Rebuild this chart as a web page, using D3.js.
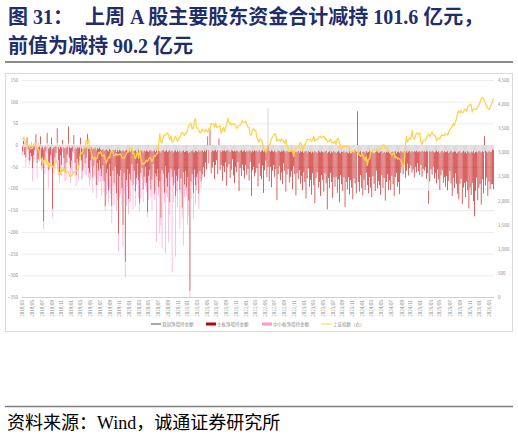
<!DOCTYPE html>
<html>
<head>
<meta charset="utf-8">
<script src="https://cdn.jsdelivr.net/npm/d3@7"></script>
<style>
  body { margin: 0; background: #fff; }
  svg { display: block; }
</style>
</head>
<body>
<script>
// weekly data, first week ends 2018-03-02
const firstWeek = "2018-03-02";

const tickLabels = [
  "2018/03","2018/05","2018/07","2018/09","2018/11",
  "2019/01","2019/03","2019/05","2019/07","2019/09","2019/11",
  "2020/01","2020/03","2020/05","2020/07","2020/09","2020/11",
  "2021/01","2021/03","2021/05","2021/07","2021/09","2021/11",
  "2022/01","2022/03","2022/05","2022/07","2022/09","2022/11",
  "2023/01","2023/03","2023/05","2023/07","2023/09","2023/11",
  "2024/01","2024/03","2024/05","2024/07","2024/09","2024/11",
  "2025/01","2025/03","2025/05","2025/07","2025/09","2025/11",
  "2026/01","2026/03"
];

const seriesNames = ["双创净增持金额", "主板净增持金额", "中小板净增持金额", "上证指数（右）"];

// 双创净增持金额 (亿元)
const shuangchuang = [
  -3,2,-5,-4,3,-2,-6,-3,-4,-8, -4,-2,3,-6,-5,-3,2,-7,-4,-10,
  -5,-3,4,-8,-6,-4,2,-9,-6,-4, -3,5,-5,-9,-4,-6,2,-5,-8,-6,
  -4,4,-5,-7,-6,-3,3,-6,-9,-5, -7,-5,2,-6,-9,-4,-7,-5,3,-8,
  -9,-6,-5,-10,-8,-6,-12,-7,-9,-6, -10,-12,-9,-14,-11,-10,-13,-15,-9,-12,
  -14,-11,-13,-10,-16,-12,-15,-11,-13,-14, -12,-15,-13,-11,-16,-14,-12,-15,-10,-13,
  -14,-12,-16,-13,-11,-15,-14,-12,-17,-13, -15,-12,-14,-16,-13,-11,-15,-14,-12,-16,
  -13,-15,-12,-14,-17,-13,-11,-15,-14,-12, -16,-14,-12,-15,-13,-17,-14,-12,-16,-13,
  -15,-13,-17,-14,-12,-16,-15,-13,-14,-18, -16,-14,-12,-15,-17,-13,-14,-16,-12,-15,
  -14,-12,-16,-13,-15,-11,-14,-12,-13,-15, -12,-14,-13,-11,-15,-12,-14,-13,-16,-12,
  -14,-12,-15,-13,-11,-14,-16,-12,-13,-15, -13,-15,-12,-14,-16,-13,-11,-15,-14,-12,
  -16,-13,-15,-12,-14,-17,-13,-15,-12,-14, -13,-15,-12,-16,-14,-12,-15,-13,-11,-14,
  85,-13,-15,-12,-14,-16,-13,-15,-17,-12, -14,-16,-13,-15,-12,-14,-17,-13,-15,-16,
  -13,-15,-17,-14,-12,-16,-15,-13,-18,-14, -16,-14,-18,-15,-13,-17,-14,-16,-15,-19,
  -15,-17,-14,-16,-18,-13,-15,-17,-14,-16, -17,-15,-13,-18,-16,-14,-19,-15,-17,-14,
  -16,-18,-15,-14,-17,-19,-15,-16,-14,-18, -15,-17,-19,-14,-16,-18,-15,-17,-13,-16,
  -18,-15,-17,-14,-19,-16,-15,-18,-14,-17, -16,-14,-18,-15,-17,-19,-16,-14,-15,-18,
  -17,-15,-14,-19,-16,-18,-15,-17,-14,-16, -18,-16,-15,-17,-14,-19,-16,-15,-18,-14,
  -15,-17,-13,-16,-14,-18,-15,-13,-17,-14, -16,-14,-15,-13,-17,-15,-14,-16,-13,-15,
  -14,-16,-13,-15,-105,-14,-16,-13,-15,-17, -15,-13,-16,-14,-18,-15,-13,-17,-14,-16,
  -16,-14,-18,-15,-13,-17,-16,-14,-15,-19, -17,-15,-14,-18,-16,-13,-17,-15,-19,-14,
  -16,-18,-15,-17,-14,-19,-16,-15,-17,-13, -15,-17,-14,-16,-18,-13,-15,-17,-14,-16,
  -15,-10.0,-11.6
];

// 主板净增持金额 (亿元)
const zhuban = [
  -12,8,-18,-25,15,-8,-30,-15,-22,-45, -20,-10,22,-35,-28,-15,18,-40,-25,-166,
  -30,-12,24,-50,-35,-20,15,-138,-45,-25, -15,34,-30,-60,-20,-40,10,-25,-55,-35,
  -18,39,-25,-45,-30,-12,20,-35,-60,-28, -40,-22,15,-30,-50,-18,-35,-25,23,-45,
  -55,-30,-20,-65,-40,-25,-80,-35,-50,-30, -45,-60,-38,-70,-130,-55,-42,-90,-35,-60,
  -126,-48,-75,-40,-95,-55,-188,-60,-45,-85, -172,-50,-256,-70,-40,-110,-55,-65,-35,-80,
  -45,-95,-60,-30,-70,-120,-50,-40,-85,-60, -35,-75,-140,-55,-45,-90,-65,-30,-100,-50,
  -60,-40,-85,-70,-150,-45,-55,-95,-35,-65, -80,-50,-120,-40,-60,-75,-45,-105,-55,-70,
  -40,-90,-60,-130,-50,-75,-45,-85,-60,-110, -320,-70,-55,-95,-40,-80,-60,-50,-100,-45,
  -70,-55,-35,-60,-25,-45,20,-30,35,-50, -40,-25,-65,-35,-20,-55,15,-45,-30,-70,
  -35,-50,-25,-80,-40,-30,-60,-45,-20,-55, -75,-35,-50,-25,-90,-40,-60,-30,-45,-65,
  -30,-55,-40,-70,-25,-100,-45,-35,-60,-50, -40,-80,-30,-55,-65,-35,-95,-45,-25,-60,
  -50,-70,-35,-85,-45,-30,-60,-40,-110,-55, -35,-65,-50,-75,-30,-45,-90,-55,-40,-70,
  -60,-45,-85,-35,-55,-100,-50,-65,-40,-75, -55,-90,-45,-70,-110,-60,-40,-80,-65,-95,
  -50,-75,-120,-60,-45,-85,-70,-100,-55,-65, -90,-50,-75,-130,-60,-85,-45,-70,-105,-60,
  -80,-55,-95,-65,-115,-50,-75,-90,-60,-125, -70,-85,-55,-100,-65,-80,-110,-60,-75,-95,
  78,-70,-90,-55,-80,-100,-65,-85,-50,-75, -95,-60,-80,-105,-55,-70,-90,-45,-85,-65,
  -75,-100,-55,-80,-60,-110,-70,-50,-90,-65, -85,-55,-75,-100,-60,-45,-80,-70,-95,-50,
  -35,-50,-30,-60,-45,-25,-55,-40,-30,-50, -40,-60,-35,-50,-25,-45,-55,-30,-60,-40,
  -45,-35,-65,-50,-30,-70,-40,-55,-35,-60, -50,-75,-40,-65,-85,-55,-45,-70,-60,-80,
  -55,-90,-65,-45,-75,-100,-60,-85,-50,-70, -95,-110,-75,-60,-120,-85,-70,-105,-65,-90,
  -130,-80,-100,-70,-115,-145,-90,-60,-110,-85, -75,-120,-65,-95,20,-80,-60,-100,-70,-85,
  -75,-80.2,-90.0
];

// 中小板净增持金额 (亿元), board merged in 2021/04
const zhongxiao = [
  -8,-15,5,-20,-12,-25,-10,-18,8,-30, -15,-22,-10,-35,6,-20,-28,-12,-25,-18,
  -30,-15,-20,-40,-12,-25,-35,-20,-15,-28, -22,-10,-35,-18,-45,-25,-15,-30,-20,-40,
  -18,-28,-15,-35,-22,-50,-20,-30,-25,-15, -35,-20,-28,-45,-18,-30,-25,-40,-15,-22,
  -30,-45,-25,-35,-20,-40,-30,-50,-25,-35, -30,-45,-35,-25,-10,-50,-40,-30,-55,-40,
  -40,-35,-50,-45,-40,-60,-42,-50,-55,-40, -50,-45,-36,-60,-40,-35,-65,-50,-40,-55,
  -20,-35,-15,-25,-40,-18,-60,-22,-30,-15, -45,-20,-12,-55,-25,-18,-70,-30,-15,-40,
  -150,-25,-20,-120,-18,-180,-30,-22,-200,-35, -25,-160,-30,-20,-220,-40,-28,-140,-35,-60,
  -22,-90,-35,-25,-170,-30,-45,-20,-110,-35, -15,-40,-25,-60,-20,-45,-30,-25,-35,-20,
  -15,-10
];

// 上证指数 weekly close
const shIndex = [
  3254,3307,3269,3152,3169, 3131,3159,3071,3082, 3091,3163,3193,3141, 3095,3067,3022,2889,2847,
  2747,2831,2829,2874, 2740,2795,2669,2730,2725, 2702,2682,2797,2821, 2821,2606,2550,2599,
  2676,2599,2679,2579,2588, 2606,2594,2516,2494,
  2514,2554,2596,2601, 2618,2618,2682,2804, 2994,2969,3022,3104,3091, 3247,3189,3271,3086,
  3078,2939,2882,2853,2899, 2862,2882,3001,2979, 3012,2930,2925,2945, 2868,2775,2824,2898,2886,
  2999,3031,3007,2932, 2932,2973,2939,2955, 2958,2964,2891,2885,2872, 2912,2968,3005,3006,
  3083,3092,3075,2977,2977, 2876,2917,3040,2880, 3035,2887,2746,2772, 2764,2797,2839,2809,
  2860,2896,2868,2814,2853, 2931,2920,2968,2980, 3152,3384,3214,3197,3310, 3372,3361,3381,3404,
  3355,3260,3338,3219, 3219,3273,3336,3278,3225, 3312,3311,3378,3409, 3391,3347,3395,3397,
  3473,3570,3566,3607,3483, 3496,3655,3696,3509, 3502,3454,3405,3418, 3484,3451,3427,3474,3447,
  3418,3490,3487,3601, 3592,3590,3525,3607, 3519,3525,3540,3550,3397, 3459,3517,3427,3522,
  3581,3703,3614,3613, 3568,3592,3573,3583,3547, 3491,3539,3560,3564, 3607,3666,3632,3618,3640,
  3580,3521,3523,3361, 3361,3462,3491,3452, 3448,3310,3252,3212, 3283,3252,3211,3087,3047,
  3002,3084,3147,3131, 3195,3285,3316,3350, 3388,3357,3228,3270,3253, 3227,3277,3258,3236,
  3186,3262,3126,3088,3024, 3024,3072,3039,2916, 3071,3087,3098,3102, 3156,3206,3168,3046,3089,
  3158,3195,3265,3265, 3263,3261,3225,3267, 3328,3230,3251,3266,3273, 3327,3338,3301,3323,
  3334,3272,3283,3213, 3231,3231,3273,3198,3202, 3197,3237,3168,3276, 3288,3190,3132,3065,
  3133,3117,3117,3132,3110, 3110,3088,2983,3018, 3031,3038,3054,3041, 3032,2970,2942,2915,2975,
  2929,2882,2832,2910, 2730,2866,2866,3004, 3028,3047,3055,3048,3041, 3069,3019,3065,3088,
  3105,3154,3154,3089,3087, 3051,3033,2999,2967, 2950,2971,2982,2891, 2905,2862,2880,2855,2842,
  2765,2704,2737,3088, 3336,3217,3261,3300, 3272,3452,3330,3267,3326, 3404,3392,3368,3400,
  3211,3169,3241,3252,3252, 3304,3347,3380,3321, 3373,3419,3364,3352, 3343,3238,3277,3296,
  3279,3342,3367,3348,3347, 3386,3377,3360,3424, 3473,3510,3534,3594, 3560,3635,3697,3826,3858,
  3812,3871,3820,3828, 3883,3897,3840,3951,3955, 3998,3991,3835,3889, 3903,3890,3890,3964,
  3969,4046,4100,4136,4117, 4070,4010,3950,3910, 3890,3930,3980,4050, 4110
];

const width = 518, height = 437;
const plot = { left: 22, right: 494, top: 80, bottom: 297 };
const serif = "'Liberation Serif', 'Noto Sans CJK SC', serif";
const sans = "'Noto Sans CJK SC', 'Noto Sans', sans-serif";

const colors = ["#dadada", "#c00000", "#ff99cc", "#ffd34d"];
const barFrac = [1, 0.55, 0.55];

const svg = d3.select("body")
  .append("svg")
  .attr("width", width)
  .attr("height", height);

// title
const title = svg.append("text")
  .attr("font-family", serif)
  .attr("font-weight", "bold")
  .attr("font-size", 20)
  .attr("fill", "#1e2d6b");
title.append("tspan").attr("x", 8).attr("y", 24).text("图 31：");
title.append("tspan").attr("x", 85).attr("y", 24).text("上周 A 股主要股东资金合计减持 101.6 亿元，");
title.append("tspan").attr("x", 8).attr("y", 53).text("前值为减持 90.2 亿元");

svg.append("line")
  .attr("x1", 5).attr("x2", 513).attr("y1", 62).attr("y2", 62)
  .attr("stroke", "#8c8c8c").attr("stroke-width", 2);

// chart frame
svg.append("rect")
  .attr("x", 5.5).attr("y", 73.5).attr("width", 507).attr("height", 258)
  .attr("fill", "none").attr("stroke", "#d9d9d9");

// categories
const parse = d3.timeParse("%Y-%m-%d");
const weeks = zhuban.map((d, i) => d3.timeWeek.offset(parse(firstWeek), i));
const fmt = d3.timeFormat("%Y/%m");

const rows = weeks.map((w, i) => ({
  week: w,
  sc: shuangchuang[i] || 0,
  zb: zhuban[i] || 0,
  zx: zhongxiao[i] || 0
}));

const x = d3.scaleBand()
  .domain(d3.range(rows.length))
  .range([plot.left, plot.right])
  .paddingInner(0);

const yL = d3.scaleLinear().domain([-350, 150]).range([plot.bottom, plot.top]);
const yR = d3.scaleLinear().domain([0, 4500]).range([plot.bottom, plot.top]);

// grid
const leftTicks = d3.range(-350, 151, 50);
svg.append("g")
  .selectAll("line")
  .data(leftTicks)
  .enter()
  .append("line")
  .attr("x1", plot.left).attr("x2", plot.right)
  .attr("y1", d => yL(d) + 0.5).attr("y2", d => yL(d) + 0.5)
  .attr("stroke", d => d === -350 ? "#d0d0d0" : "#ececec");

// stacked bars
const stack = d3.stack()
  .keys(["sc", "zb", "zx"])
  .offset(d3.stackOffsetDiverging);

const layers = svg.append("g")
  .selectAll("g")
  .data(stack(rows))
  .enter()
  .append("g")
  .attr("fill", (d, i) => colors[i]);

layers.selectAll("rect")
  .data((d, k) => d.map((v, i) => ({ v: v, i: i, k: k })).filter(e => e.v[0] !== e.v[1]))
  .enter()
  .append("rect")
  .attr("x", e => x(e.i) + x.bandwidth() * (1 - barFrac[e.k]) / 2)
  .attr("width", e => x.bandwidth() * barFrac[e.k])
  .attr("y", e => yL(Math.max(e.v[0], e.v[1])))
  .attr("height", e => Math.abs(yL(e.v[0]) - yL(e.v[1])));

// index line
const line = d3.line()
  .x((d, i) => x(i) + x.bandwidth() / 2)
  .y(d => yR(d));

svg.append("path")
  .datum(shIndex)
  .attr("fill", "none")
  .attr("stroke", colors[3])
  .attr("stroke-width", 1.3)
  .attr("stroke-linejoin", "round")
  .attr("d", line);

// axes
const axisLeft = svg.append("g")
  .attr("transform", "translate(" + plot.left + ",0)")
  .call(d3.axisLeft(yL).tickValues(leftTicks).tickSize(0).tickPadding(4));

const axisRight = svg.append("g")
  .attr("transform", "translate(" + plot.right + ",0)")
  .call(d3.axisRight(yR).tickValues(d3.range(0, 4501, 500)).tickSize(0).tickPadding(4));

const tickIdx = tickLabels.map(l => rows.findIndex(r => fmt(r.week) === l)).filter(i => i >= 0);

const axisBottom = svg.append("g")
  .attr("transform", "translate(0," + plot.bottom + ")")
  .call(d3.axisBottom(x).tickValues(tickIdx).tickFormat(i => fmt(rows[i].week)).tickSize(0).tickPadding(3));

axisBottom.selectAll("text")
  .attr("text-anchor", "end")
  .attr("transform", "rotate(-90)")
  .attr("x", -3)
  .attr("y", 0)
  .attr("dy", "0.35em");

[axisLeft, axisRight, axisBottom].forEach(a => {
  a.select(".domain").remove();
  a.selectAll("text")
    .attr("font-family", sans)
    .attr("font-size", 4.5)
    .attr("fill", "#8c8c8c");
});

// legend
const legendX = [151, 206, 262, 321];
const legend = svg.append("g")
  .selectAll("g")
  .data(seriesNames)
  .enter()
  .append("g")
  .attr("transform", (d, i) => "translate(" + legendX[i] + ",324)");

legend.append("rect")
  .attr("x", 0)
  .attr("y", (d, i) => i === 3 ? -0.5 : (i === 0 ? -1 : -1.5))
  .attr("width", (d, i) => i === 3 ? 11 : 10)
  .attr("height", (d, i) => i === 3 ? 1 : (i === 0 ? 2 : 3))
  .attr("fill", (d, i) => i === 0 ? "#a6a6a6" : colors[i]);

legend.append("text")
  .attr("x", (d, i) => i === 3 ? 12 : 11)
  .attr("dy", "0.35em")
  .attr("font-family", sans)
  .attr("font-size", 4.5)
  .attr("fill", "#8c8c8c")
  .text(d => d);

// source
svg.append("line")
  .attr("x1", 5).attr("x2", 513).attr("y1", 406.5).attr("y2", 406.5)
  .attr("stroke", "#7f7f7f").attr("stroke-width", 1.5);

svg.append("text")
  .attr("x", 7).attr("y", 429)
  .attr("font-family", serif)
  .attr("font-size", 18)
  .attr("fill", "#000")
  .text("资料来源：Wind，诚通证券研究所");
</script>
</body>
</html>
